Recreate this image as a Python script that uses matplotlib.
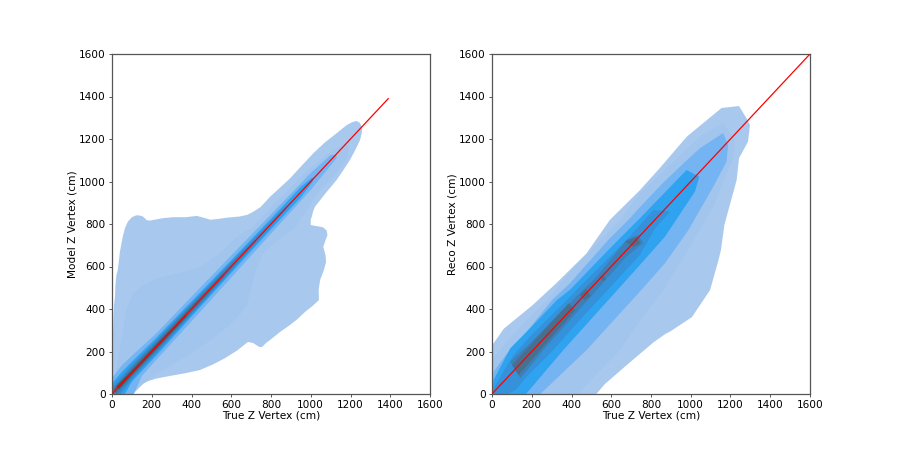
import matplotlib
matplotlib.use("Agg")
import matplotlib.pyplot as plt

ticks = [0, 200, 400, 600, 800, 1000, 1200, 1400, 1600]
level_colors = ["#A9C8EE", "#A2C5EE", "#75B4F2", "#2FA3EF", "#3491DA", "#3D80B8", "#47708F", "#4B4F55"]

# contour outlines, (x, y) in cm, outer level first
model_levels = [
    [(0, 0), (3, 200), (7, 362), (10, 420), (15, 457), (17, 510), (22, 560), (29, 583), (40, 670), (54, 740),
     (65, 780), (80, 811), (100, 832), (122, 841), (140, 840), (156, 835), (175, 818), (190, 816), (224, 822),
     (260, 828), (308, 832), (370, 832), (427, 838), (460, 830), (495, 820), (535, 824), (580, 830), (640, 835),
     (681, 843), (715, 860), (748, 880), (795, 928), (850, 975), (896, 1015), (955, 1075), (1013, 1133),
     (1070, 1183), (1130, 1227), (1180, 1265), (1210, 1280), (1231, 1285), (1248, 1275), (1259, 1250),
     (1256, 1225), (1248, 1195), (1225, 1150), (1197, 1101), (1165, 1055), (1130, 1007), (1075, 945),
     (1021, 881), (1012, 860), (1005, 834), (1000, 820), (1000, 795), (1030, 790), (1060, 785), (1080, 770),
     (1084, 748), (1075, 725), (1063, 693), (1075, 650), (1077, 621), (1065, 580), (1047, 536), (1040, 490),
     (1041, 442), (1010, 415), (971, 386), (930, 350), (896, 325), (850, 295), (795, 254), (775, 240),
     (755, 221), (740, 222), (725, 231), (710, 240), (684, 245), (630, 205), (569, 169), (510, 140),
     (443, 113), (370, 98), (292, 85), (220, 72), (180, 60), (141, 42), (100, 25), (65, 5)],
    [(0, 0), (37, 205), (71, 394), (105, 472), (156, 512), (224, 543), (308, 564), (380, 580), (443, 597),
     (543, 663), (619, 734), (700, 780), (850, 925), (980, 1050), (1100, 1140), (1172, 1180), (1195, 1160),
     (1180, 1105), (1113, 1022), (1040, 950), (921, 781), (850, 735), (760, 663), (720, 569), (678, 419),
     (647, 378), (579, 315), (495, 252), (410, 197), (308, 142), (224, 94), (156, 47), (105, 0)],
    [(0, 75), (50, 135), (100, 180), (225, 287), (400, 458), (600, 652), (800, 845), (1000, 1040), (1100, 1125),
     (1130, 1125), (1130, 1110), (1000, 960), (800, 755), (600, 548), (400, 342), (225, 163), (150, 85),
     (110, 0), (0, 0)],
    [(0, 50), (50, 105), (100, 152), (225, 267), (400, 436), (600, 630), (800, 825), (950, 975), (1010, 1020),
     (1010, 1000), (950, 925), (800, 775), (600, 570), (400, 364), (225, 183), (100, 58), (65, 0), (0, 0)],
    [(0, 35), (50, 88), (100, 138), (225, 257), (400, 427), (600, 622), (800, 815), (880, 890),
     (880, 873), (800, 785), (600, 578), (400, 373), (225, 193), (100, 68), (45, 0), (0, 0)],
    [(0, 20), (50, 75), (100, 128), (225, 249), (400, 420), (600, 615), (720, 727),
     (725, 716), (600, 585), (400, 380), (225, 201), (100, 78), (30, 0), (0, 0)],
    [(5, 20), (50, 66), (100, 118), (225, 241), (400, 413), (560, 566),
     (565, 554), (400, 387), (225, 209), (100, 86), (20, 5)],
    [(20, 35), (100, 110), (225, 234), (370, 374), (375, 366), (225, 216), (100, 92), (36, 24)],
]

reco_levels = [
    [(0, 0), (0, 228), (59, 307), (203, 417), (322, 520), (475, 661), (593, 819), (745, 960), (845, 1064),
     (980, 1211), (1155, 1346), (1243, 1355), (1286, 1289), (1298, 1266), (1288, 1187), (1243, 1110),
     (1231, 1007), (1169, 795), (1152, 678), (1137, 621), (1097, 489), (1006, 362), (898, 295), (873, 283),
     (814, 244), (695, 150), (568, 47), (525, 0)],
    [(0, 0), (8, 168), (67, 238), (151, 325), (277, 442), (392, 573), (644, 819), (745, 944), (887, 1070),
     (1050, 1215), (1163, 1275), (1223, 1195), (1213, 1110), (1113, 881), (963, 640), (870, 500), (744, 341),
     (644, 207), (430, 0)],
    [(0, 0), (8, 105), (75, 191), (168, 285), (302, 442), (392, 521), (585, 725), (686, 819), (745, 880), (860, 993),
     (963, 1085), (1047, 1157), (1163, 1228), (1188, 1172), (1180, 1093), (1113, 975), (988, 771), (870, 615),
     (744, 482), (476, 207), (243, 0)],
    [(0, 0), (8, 66), (92, 215), (191, 309), (327, 442), (392, 490), (593, 685), (745, 828), (979, 1054),
     (1043, 1022), (1021, 952), (870, 740), (744, 607), (359, 207), (171, 0)],
    [(0, 0), (17, 42), (109, 184), (191, 270), (377, 442), (458, 520), (677, 725), (812, 866), (896, 858),
     (820, 779), (744, 654), (419, 325), (308, 207), (168, 75), (120, 20), (80, 0)],
    [(92, 152), (191, 239), (369, 407), (526, 552), (677, 725), (735, 748), (760, 710), (677, 647),
     (258, 207), (143, 74)],
]

# darker patches, they come apart into islands in the reco panel
reco_islands = [
    [(101, 136), (386, 427), (419, 395), (134, 89)],
    [(441, 465), (475, 496), (497, 460), (466, 441)],
    [(542, 551), (559, 562), (573, 539), (556, 531)],
    [(669, 717), (728, 740), (748, 709), (711, 693)],
]

line_end_model = 1390
line_end_reco = 1600


def draw_panel(ax, levels, line_end, ylabel):
    for i, outline in enumerate(levels):
        xs = [p[0] for p in outline]
        ys = [p[1] for p in outline]
        ax.fill(xs, ys, color=level_colors[i], lw=0)
    ax.plot([0, line_end], [0, line_end], color="red", lw=0.9, zorder=3)
    ax.set_xlim(0, 1600)
    ax.set_ylim(0, 1600)
    ax.set_xticks(ticks)
    ax.set_yticks(ticks)
    ax.tick_params(labelsize=7.6, length=2.5, width=0.7, pad=2, color="#555555")
    ax.set_xlabel("True Z Vertex (cm)", fontsize=7.6, labelpad=0.5)
    ax.set_ylabel(ylabel, fontsize=7.6, labelpad=0.8)
    for s in ax.spines.values():
        s.set_linewidth(0.9)
        s.set_color("#555555")


fig = plt.figure(figsize=(9, 4.5), dpi=100)
ax1 = fig.add_axes([112 / 900, 56 / 450, 318 / 900, 340 / 450])
ax2 = fig.add_axes([492 / 900, 56 / 450, 318 / 900, 340 / 450])

draw_panel(ax1, model_levels, line_end_model, "Model Z Vertex (cm)")

# islands sit on top of the level fills, under the red line
for island in reco_islands:
    ax2.fill([p[0] for p in island], [p[1] for p in island], color=level_colors[6], lw=0, zorder=2)
draw_panel(ax2, reco_levels, line_end_reco, "Reco Z Vertex (cm)")

fig.savefig("out.png", dpi=100)
